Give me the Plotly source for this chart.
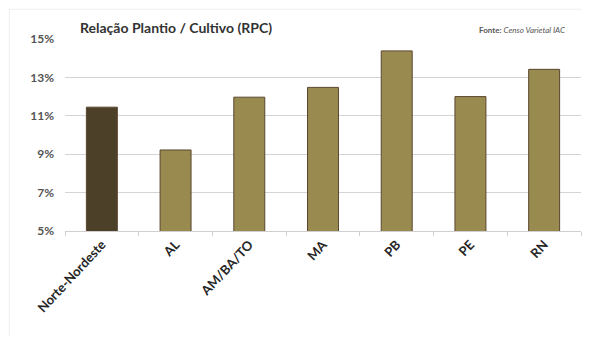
import plotly.graph_objects as go

categories = ["Norte-Nordeste", "AL", "AM/BA/TO", "MA", "PB", "PE", "RN"]
values = [11.45, 9.22, 11.97, 12.48, 14.38, 12.0, 13.42]
bar_colors = ["#4d4028", "#998a50", "#998a50", "#998a50", "#998a50", "#998a50", "#998a50"]
y_ticks = [5, 7, 9, 11, 13, 15]
y_tick_labels = ["5%", "7%", "9%", "11%", "13%", "15%"]

FONT = "Lato, Open Sans, sans-serif"

fig = go.Figure(go.Bar(
    x=categories,
    y=values,
    marker=dict(color=bar_colors, line=dict(color="#5a4630", width=1)),
    width=0.42,
))

fig.update_layout(
    width=595, height=330,
    margin=dict(l=57, r=22, t=31, b=107),
    paper_bgcolor="white", plot_bgcolor="white",
    showlegend=False,
    font=dict(family=FONT, color="#3a3a3a"),
    xaxis=dict(
        tickangle=-47,
        tickfont=dict(size=13, color="#262626", family=FONT, weight="bold"),
        showline=True, linecolor="#cfcfcf", linewidth=1,
        ticks="outside", ticklen=4, tickcolor="#cfcfcf", tickson="boundaries",
        showgrid=False,
    ),
    yaxis=dict(
        range=[5, 15],
        tickvals=y_ticks, ticktext=y_tick_labels,
        tickfont=dict(size=12, color="#555555", family=FONT, weight="bold"),
        showgrid=True, gridcolor="#d4d4d4", gridwidth=1,
        zeroline=False, showline=False, ticks="",
        ticklabelstandoff=10,
    ),
    annotations=[
        dict(text="<b>Relação Plantio / Cultivo (RPC)</b>", xref="paper", yref="paper",
             x=0.025, y=1.0, xanchor="left", yanchor="bottom", showarrow=False, yshift=1,
             font=dict(size=14, color="#333333", family=FONT)),
        dict(text="<b>Fonte:</b> <i>Censo Varietal IAC</i>", xref="paper", yref="paper",
             x=0.975, y=1.0, xanchor="right", yanchor="bottom", showarrow=False, yshift=2,
             font=dict(size=8, color="#555555", family=FONT)),
    ],
    shapes=[
        dict(type="line", xref="paper", yref="paper", x0=-0.11, x1=1.0, y0=1.155, y1=1.155,
             line=dict(color="#eeeeee", width=1), layer="below"),
        dict(type="line", xref="paper", yref="paper", x0=-0.108, x1=-0.108, y0=-0.55, y1=1.155,
             line=dict(color="#eeeeee", width=1), layer="below"),
    ],
)

fig.write_html("out.html")
